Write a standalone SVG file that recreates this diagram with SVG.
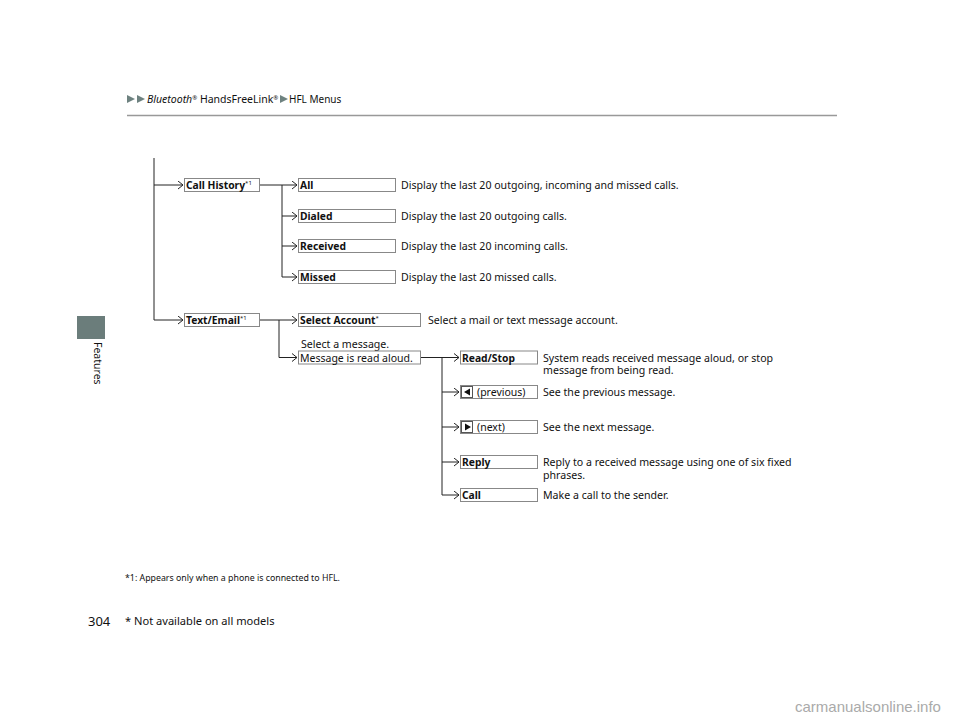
<svg xmlns="http://www.w3.org/2000/svg" width="960" height="722" viewBox="0 0 960 722">
<defs>
<marker id="arr" markerUnits="userSpaceOnUse" markerWidth="8" markerHeight="10" refX="6" refY="4.5" orient="auto">
<path d="M1,0.5 L6,4.5 L1,8.5" fill="none" stroke="#222" stroke-width="1"/>
</marker>
<style>
text{font-family:"Noto Sans","Open Sans","Liberation Sans",sans-serif;fill:#111}
.box{fill:#fff;stroke:#888;stroke-width:1}
.lbl{font-size:10.3px;font-weight:bold}
.lbn{font-size:10.5px}
.desc{font-size:10.6px}
.sup{font-size:6px;font-weight:normal}
.ln{fill:none;stroke:#222;stroke-width:1}
.hd{font-size:10px}
.tri{fill:#6e8280}
</style>
</defs>
<rect width="960" height="722" fill="#fff"/>

<g id="header">
<polygon class="tri" points="127,95 135,99 127,103"/>
<polygon class="tri" points="137,95 145,99 137,103"/>
<text class="hd" x="147" y="103" font-size="10.5" style="font-size:10.5px"><tspan font-style="italic">Bluetooth</tspan><tspan font-size="6" dy="-3.5">®</tspan><tspan dy="3.5"> HandsFreeLink</tspan><tspan font-size="6" dy="-3.5">®</tspan></text>
<polygon class="tri" points="280,95 288,99 280,103"/>
<text class="hd" x="289" y="103">HFL Menus</text>
<line x1="127" y1="115.5" x2="837" y2="115.5" stroke="#999" stroke-width="1.5"/>
</g>

<g id="sidebar">
<rect x="77" y="316" width="28" height="23" fill="#6b7d7b"/>
<text x="0" y="0" font-size="10.5" transform="translate(94,342) rotate(90)">Features</text>
</g>

<g id="connectors">
<path class="ln" d="M154,158 V320 H183" marker-end="url(#arr)"/>
<path class="ln" d="M154,185 H183" marker-end="url(#arr)"/>
<path class="ln" d="M260,185 H297" marker-end="url(#arr)"/>
<path class="ln" d="M282,185 V277 H297" marker-end="url(#arr)"/>
<path class="ln" d="M282,216 H297" marker-end="url(#arr)"/>
<path class="ln" d="M282,246 H297" marker-end="url(#arr)"/>
<path class="ln" d="M260,320 H297" marker-end="url(#arr)"/>
<path class="ln" d="M279,320 V357.5 H297" marker-end="url(#arr)"/>
<path class="ln" d="M421,357.5 H459" marker-end="url(#arr)"/>
<path class="ln" d="M442,357.5 V495 H459" marker-end="url(#arr)"/>
<path class="ln" d="M442,392 H459" marker-end="url(#arr)"/>
<path class="ln" d="M442,427 H459" marker-end="url(#arr)"/>
<path class="ln" d="M442,462 H459" marker-end="url(#arr)"/>
</g>

<g id="call-history">
<rect class="box" x="184.5" y="178.5" width="75" height="13"/>
<text class="lbl" x="186" y="189">Call History<tspan class="sup" dy="-4">*1</tspan></text>
</g>
<g id="all">
<rect class="box" x="298.5" y="178.5" width="97" height="13"/>
<text class="lbl" x="300" y="189">All</text>
<text class="desc" x="401" y="189">Display the last 20 outgoing, incoming and missed calls.</text>
</g>
<g id="dialed">
<rect class="box" x="298.5" y="209.5" width="97" height="13"/>
<text class="lbl" x="300" y="220">Dialed</text>
<text class="desc" x="401" y="220">Display the last 20 outgoing calls.</text>
</g>
<g id="received">
<rect class="box" x="298.5" y="239.5" width="97" height="13"/>
<text class="lbl" x="300" y="250">Received</text>
<text class="desc" x="401" y="250">Display the last 20 incoming calls.</text>
</g>
<g id="missed">
<rect class="box" x="298.5" y="270.5" width="97" height="13"/>
<text class="lbl" x="300" y="281">Missed</text>
<text class="desc" x="401" y="281">Display the last 20 missed calls.</text>
</g>

<g id="text-email">
<rect class="box" x="184.5" y="313.5" width="75" height="13"/>
<text class="lbl" x="186" y="324">Text/Email<tspan class="sup" dy="-4">*1</tspan></text>
</g>
<g id="select-account">
<rect class="box" x="298.5" y="313.5" width="122" height="13"/>
<text class="lbl" x="300" y="324">Select Account<tspan class="sup" dy="-4">*</tspan></text>
<text class="desc" x="428" y="324">Select a mail or text message account.</text>
</g>
<g id="message-read">
<text class="desc" x="301" y="347.5">Select a message.</text>
<rect class="box" x="298.5" y="351" width="122" height="13"/>
<text class="lbn" x="300" y="361.5">Message is read aloud.</text>
</g>

<g id="read-stop">
<rect class="box" x="460.5" y="351" width="77" height="13"/>
<text class="lbl" x="462" y="361.5">Read/Stop</text>
<text class="desc" x="543" y="361.5">System reads received message aloud, or stop</text>
<text class="desc" x="543" y="374">message from being read.</text>
</g>
<g id="previous">
<rect class="box" x="460.5" y="385.5" width="77" height="13"/>
<rect x="461.5" y="386.5" width="11" height="11" fill="#fff" stroke="#555" stroke-width="1"/>
<polygon points="464,392 470,388.5 470,395.5" fill="#111"/>
<text class="lbn" x="477" y="396">(previous)</text>
<text class="desc" x="543" y="396">See the previous message.</text>
</g>
<g id="next">
<rect class="box" x="460.5" y="420.5" width="77" height="13"/>
<rect x="461.5" y="421.5" width="11" height="11" fill="#fff" stroke="#555" stroke-width="1"/>
<polygon points="465,423.5 471,427 465,430.5" fill="#111"/>
<text class="lbn" x="477" y="431">(next)</text>
<text class="desc" x="543" y="431">See the next message.</text>
</g>
<g id="reply">
<rect class="box" x="460.5" y="455.5" width="77" height="13"/>
<text class="lbl" x="462" y="466">Reply</text>
<text class="desc" x="543" y="466">Reply to a received message using one of six fixed</text>
<text class="desc" x="543" y="478.5">phrases.</text>
</g>
<g id="call">
<rect class="box" x="460.5" y="488.5" width="77" height="13"/>
<text class="lbl" x="462" y="499">Call</text>
<text class="desc" x="543" y="499">Make a call to the sender.</text>
</g>

<g id="footer">
<text x="125" y="581" font-size="8.8" fill="#222">*1: Appears only when a phone is connected to HFL.</text>
<text x="88" y="626" font-size="13">304</text>
<text x="125" y="625" font-size="11.1">* Not available on all models</text>
<text x="795" y="712" font-size="15" style="font-family:'Liberation Sans Narrow','Liberation Sans',sans-serif;fill:#aaa">carmanualsonline.info</text>
</g>
</svg>
